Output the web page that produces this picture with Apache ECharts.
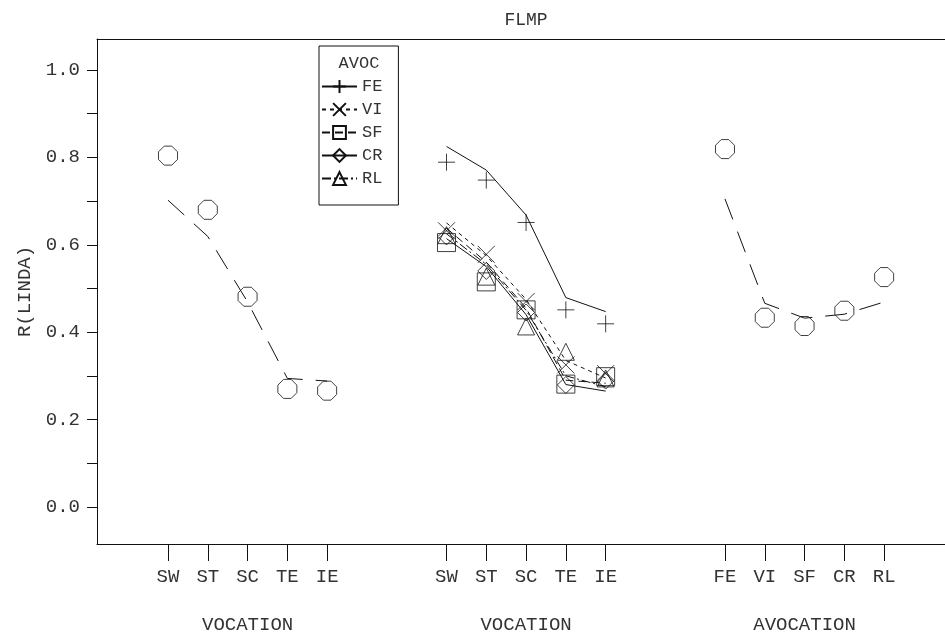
<!DOCTYPE html>
<html>
<head>
<meta charset="utf-8">
<script src="https://cdn.jsdelivr.net/npm/echarts@6/dist/echarts.min.js"></script>
<style>
  html, body { margin: 0; padding: 0; background: #fff; }
  #chart { width: 945px; height: 636px; }
</style>
</head>
<body>
<div id="chart"></div>
<script>
// categories
const vocCats = ['SW', 'ST', 'SC', 'TE', 'IE'];
const avocCats = ['FE', 'VI', 'SF', 'CR', 'RL'];
const groupTitles = ['VOCATION', 'VOCATION', 'AVOCATION'];

// panel 1: vocation main effect
const vocObs = [0.804, 0.680, 0.481, 0.270, 0.266];
const vocPred = [0.702, 0.619, 0.469, 0.294, 0.288];

// panel 2: vocation x avocation (observed / predicted)
const feObs = [0.789, 0.748, 0.651, 0.451, 0.419];
const fePred = [0.825, 0.771, 0.668, 0.479, 0.447];
const viObs = [0.632, 0.578, 0.470, 0.325, 0.305];
const viPred = [0.650, 0.575, 0.475, 0.335, 0.295];
const sfObs = [0.605, 0.515, 0.451, 0.281, 0.298];
const sfPred = [0.638, 0.560, 0.455, 0.290, 0.283];
const crObs = [0.619, 0.540, 0.445, 0.279, 0.289];
const crPred = [0.614, 0.550, 0.440, 0.280, 0.265];
const rlObs = [0.622, 0.527, 0.413, 0.355, 0.294];
const rlPred = [0.625, 0.555, 0.450, 0.300, 0.275];

// panel 3: avocation main effect
const avocObs = [0.819, 0.433, 0.414, 0.449, 0.526];
const avocPred = [0.705, 0.466, 0.432, 0.441, 0.469];

const yTicks = [0, 0.1, 0.2, 0.3, 0.4, 0.5, 0.6, 0.7, 0.8, 0.9, 1.0];
const yLabels = [0, 0.2, 0.4, 0.6, 0.8, 1.0];

/* -------------------------------------------------------------------------- */

const START = [0, 7, 14];
const FONT = 'Liberation Mono';
const INK = '#111';
const TXT = '#333';

const SYM = {
  plus: 'path://M0,5L10,5M5,0L5,10',
  cross: 'path://M0,0L10,10M10,0L0,10',
  square: 'path://M0,0L10,0L10,10L0,10Z',
  diamond: 'path://M5,0L10,5L5,10L0,5Z',
  triangle: 'path://M5,0L10,9L0,9Z',
  octagon: 'path://M3,0L7,0L10,3L10,7L7,10L3,10L0,7L0,3Z'
};

const pts = (g, vals) => vals.map((v, i) => [START[g] + i, v]);

const tickX = [];
const tickName = {};
[vocCats, vocCats, avocCats].forEach((cats, g) => {
  cats.forEach((c, i) => {
    tickX.push(START[g] + i);
    tickName[START[g] + i] = c;
  });
});

const markerStyle = { color: 'transparent', borderColor: INK, borderWidth: 1 };

const predLine = (name, data, dash, symbol, size) => ({
  name,
  type: 'line',
  data,
  symbol,
  symbolSize: size,
  showSymbol: false,
  itemStyle: markerStyle,
  lineStyle: { color: INK, width: 1, type: dash },
  emphasis: { disabled: true },
  z: 2
});

const obsPoints = (name, data, symbol, size) => ({
  name,
  type: 'scatter',
  data,
  symbol,
  symbolSize: size,
  itemStyle: markerStyle,
  emphasis: { disabled: true },
  z: 3
});

const chart = echarts.init(document.getElementById('chart'));

chart.setOption({
  animation: false,
  title: {
    text: 'FLMP',
    left: 521,
    top: 6,
    textAlign: 'center',
    textStyle: { fontFamily: FONT, fontSize: 18, fontWeight: 'normal', color: TXT }
  },
  grid: { left: 97, right: 0, top: 39, bottom: 92, containLabel: false },
  legend: {
    orient: 'vertical',
    left: 319,
    top: 46,
    padding: [32, 16, 18, 2],
    borderColor: INK,
    borderWidth: 1,
    itemWidth: 35,
    itemHeight: 16,
    itemGap: 6,
    selectedMode: false,
    data: ['FE', 'VI', 'SF', 'CR', 'RL'],
    textStyle: { fontFamily: FONT, fontSize: 17, color: TXT, lineHeight: 16 }
  },
  graphic: [{
    type: 'text',
    x: 359,
    y: 63,
    style: {
      text: 'AVOC',
      fontFamily: FONT,
      fontSize: 17,
      fill: TXT,
      textAlign: 'center',
      textVerticalAlign: 'middle'
    }
  }],
  xAxis: [
    {
      type: 'value',
      position: 'bottom',
      min: -1.785,
      max: 19.53,
      axisLine: { show: true, onZero: false, lineStyle: { color: INK, width: 1 } },
      axisTick: { show: true, inside: false, length: 17, customValues: tickX, lineStyle: { color: INK } },
      axisLabel: {
        customValues: tickX,
        margin: 23,
        formatter: v => tickName[Math.round(v)] || '',
        fontFamily: FONT, fontSize: 19, color: TXT
      },
      splitLine: { show: false }
    },
    {
      type: 'value',
      position: 'top',
      min: -1.785,
      max: 19.53,
      axisLine: { show: true, onZero: false, lineStyle: { color: INK, width: 1 } },
      axisTick: { show: false },
      axisLabel: { show: false },
      splitLine: { show: false }
    },
    {
      type: 'value',
      position: 'bottom',
      min: -1.785,
      max: 19.53,
      axisLine: { show: false, onZero: false },
      axisTick: { show: false },
      axisLabel: {
        customValues: [2, 9, 16],
        margin: 71,
        formatter: v => groupTitles[Math.round((v - 2) / 7)],
        fontFamily: FONT, fontSize: 19, color: TXT
      },
      splitLine: { show: false }
    }
  ],
  yAxis: {
    type: 'value',
    min: -0.085,
    max: 1.071,
    name: 'R(LINDA)',
    nameLocation: 'middle',
    nameRotate: 90,
    nameGap: 63,
    nameTextStyle: { fontFamily: FONT, fontSize: 19, color: TXT },
    axisLine: { show: true, onZero: false, lineStyle: { color: INK, width: 1 } },
    axisTick: { show: true, inside: false, length: 10, customValues: yTicks, lineStyle: { color: INK } },
    axisLabel: {
      customValues: yLabels,
      margin: 17,
      formatter: v => v.toFixed(1),
      fontFamily: FONT, fontSize: 19, color: TXT
    },
    splitLine: { show: false }
  },
  series: [
    predLine('vocPred', pts(0, vocPred), [22, 13], 'none', 0),
    obsPoints('vocObs', pts(0, vocObs), SYM.octagon, 19),

    predLine('FE', pts(1, fePred), 'solid', SYM.plus, 16),
    predLine('VI', pts(1, viPred), [4, 4], SYM.cross, 16),
    predLine('SF', pts(1, sfPred), [8, 5], SYM.square, 17),
    predLine('CR', pts(1, crPred), 'solid', SYM.diamond, 16),
    predLine('RL', pts(1, rlPred), [9, 3, 2, 3], SYM.triangle, 16),
    obsPoints('FE obs', pts(1, feObs), SYM.plus, 17),
    obsPoints('VI obs', pts(1, viObs), SYM.cross, 17),
    obsPoints('SF obs', pts(1, sfObs), SYM.square, 18),
    obsPoints('CR obs', pts(1, crObs), SYM.diamond, 17),
    obsPoints('RL obs', pts(1, rlObs), SYM.triangle, 17),

    predLine('avocPred', pts(2, avocPred), [22, 13], 'none', 0),
    obsPoints('avocObs', pts(2, avocObs), SYM.octagon, 19)
  ]
});
</script>
</body>
</html>
